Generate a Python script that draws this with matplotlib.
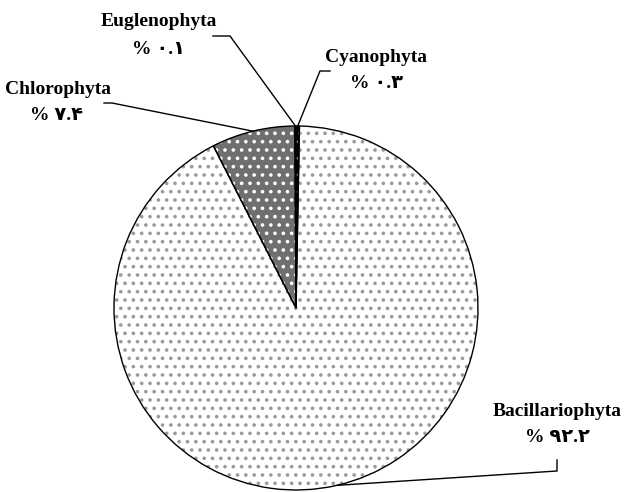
import numpy as np
import matplotlib
matplotlib.use("Agg")
import matplotlib.pyplot as plt

# ---- data ----
labels = ["Cyanophyta", "Bacillariophyta", "Chlorophyta", "Euglenophyta"]
values = [0.3, 92.2, 7.4, 0.1]
pct_labels = ["% ۰.۳", "% ۹۲.۲", "% ۷.۴", "% ۰.۱"]

# ---- styles ----
face_colors = ["#000000", "#ffffff", "#6f6f6f", "#ffffff"]
hatch_pats = ["..", "..", "..", ""]
hatch_cols = ["#ffffff", "#9a9a9a", "#ffffff", "#000000"]

W, H = 626, 492
fig = plt.figure(figsize=(W / 100, H / 100), dpi=100)
ax = fig.add_axes([0, 0, 1, 1])

center = (296, H - 308)
radius = 182
plt.rcParams["hatch.linewidth"] = 1.4

# fill layer
wedges, _ = ax.pie(values, startangle=90, counterclock=False, center=center,
                   radius=radius, colors=face_colors,
                   wedgeprops=dict(linewidth=0, edgecolor="none"), frame=True)
# hatch layer
hw, _ = ax.pie(values, startangle=90, counterclock=False, center=center,
               radius=radius, colors=["none"] * 4,
               wedgeprops=dict(linewidth=0, fill=False), frame=True)
for w, hp, hc in zip(hw, hatch_pats, hatch_cols):
    w.set_hatch(hp)
    w.set_edgecolor(hc)
    w.set_linewidth(0)
# outline layer
ow, _ = ax.pie(values, startangle=90, counterclock=False, center=center,
               radius=radius, colors=["none"] * 4,
               wedgeprops=dict(linewidth=1.0, edgecolor="black", fill=False),
               frame=True)
ax.set_xlim(0, W)
ax.set_ylim(0, H)
ax.set_aspect("equal")
ax.axis("off")

# ---- label layout (pixel coords, y down) ----
layout = {
    "Euglenophyta": dict(name=(159, 22), pct=(159, 49), start=(213, 36), elbow=(230, 36)),
    "Cyanophyta": dict(name=(376, 57), pct=(376, 84), start=(330, 71), elbow=(320, 71)),
    "Chlorophyta": dict(name=(58, 89), pct=(57, 116), start=(104, 103), elbow=(112, 103)),
    "Bacillariophyta": dict(name=(557, 412), pct=(557, 438), start=(557, 460), elbow=(557, 471)),
}

fam = ["Liberation Serif", "DejaVu Sans"]
for w, lab, pl in zip(wedges, labels, pct_labels):
    L = layout[lab]
    mid = np.deg2rad((w.theta1 + w.theta2) / 2)
    ex = center[0] + radius * np.cos(mid)
    ey = center[1] + radius * np.sin(mid)
    sx, sy = L["start"]
    bx, by = L["elbow"]
    ax.plot([sx, bx, ex], [H - sy, H - by, ey], color="black", lw=1.0,
            solid_joinstyle="miter")
    nx, ny = L["name"]
    ax.text(nx, H - ny, lab, ha="center", va="center", fontsize=14,
            fontweight="bold", family=fam)
    px, py = L["pct"]
    ax.text(px, H - py, pl, ha="center", va="center", fontsize=14,
            fontweight="bold", family=fam)

fig.savefig("out.png", dpi=100)
